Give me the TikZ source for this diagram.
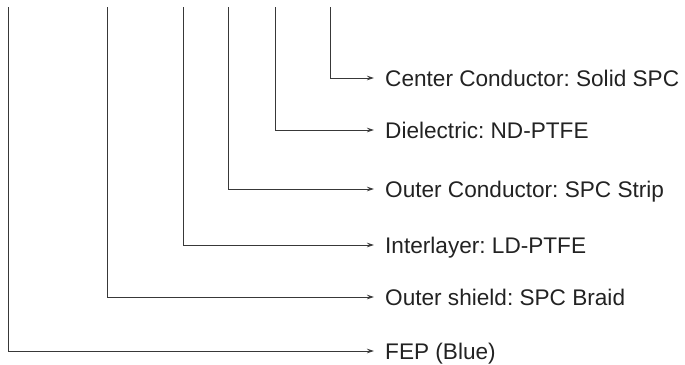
\documentclass[tikz,border=0pt]{standalone}
\usepackage{fontspec}
\setmainfont{Liberation Sans}
\usetikzlibrary{arrows.meta}
\definecolor{ink}{HTML}{222222}
\frenchspacing
\begin{document}
\begin{tikzpicture}[x=1pt,y=-1pt,
  lead/.style={draw=ink!90, line width=0.9pt, -{Stealth[length=7pt,width=4.5pt]}},
  lbl/.style={anchor=base west, inner sep=0pt, text=ink, font=\fontsize{22.6}{24}\selectfont}]
\useasboundingbox (0,0) rectangle (685,364);
\coordinate (t1) at (330,7);
\coordinate (t2) at (275,7);
\coordinate (t3) at (228,7);
\coordinate (t4) at (183,7);
\coordinate (t5) at (107,7);
\coordinate (t6) at (8.5,7);
\node[lbl] (l1) at (385,86) {Center Conductor: Solid SPC};
\node[lbl] (l2) at (385,138) {Dielectric: ND-PTFE};
\node[lbl] (l3) at (385,197) {Outer Conductor: SPC Strip};
\node[lbl] (l4) at (385,253) {Interlayer: LD-PTFE};
\node[lbl] (l5) at (385,305) {Outer shield: SPC Braid};
\node[lbl] (l6) at (385,359) {FEP (Blue)};
\foreach \i/\yy in {1/78,2/130,3/189,4/245,5/297,6/351}{
  \coordinate (e\i) at (374,\yy);
  \draw[lead] (t\i) |- (e\i);
}
\end{tikzpicture}
\end{document}
